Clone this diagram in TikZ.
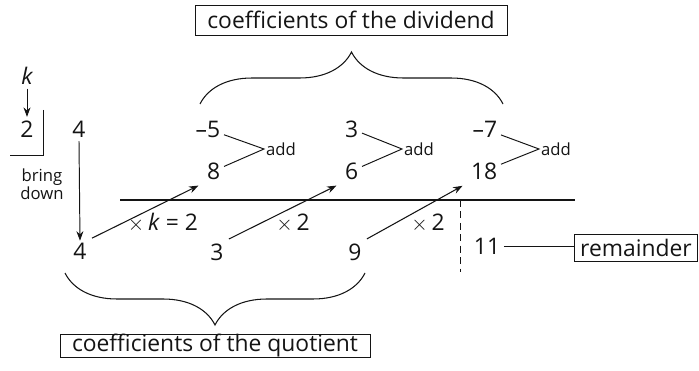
\documentclass[tikz,border=0pt]{standalone}
\usepackage{fontspec}
\setmainfont{Open Sans}
\usetikzlibrary{arrows.meta,decorations.pathreplacing}
\definecolor{ink}{RGB}{20,20,20}
\tikzset{
  >={Stealth[length=1.9mm,width=1.4mm]},
  num/.style={font=\fontsize{13}{14}\selectfont,text=ink,inner sep=2pt},
  small/.style={font=\fontsize{9.5}{10}\selectfont,text=ink,inner sep=1pt,align=center},
  tagbox/.style={draw=ink,thin,font=\fontsize{13}{14}\selectfont,text=ink,inner sep=0pt},
  link/.style={draw=ink,line width=0.55pt},
  mul/.style={->,draw=ink,line width=0.6pt,shorten >=3pt,shorten <=1pt},
  curly/.style={draw=ink,line width=0.6pt,decorate,decoration={brace,amplitude=1.04cm}},
}
\newcommand{\tms}{$\times$}
\begin{document}
\begin{tikzpicture}[x=0.02cm,y=-0.02cm]
  \useasboundingbox (0,0) rectangle (699,371);
  % divisor
  \node[num,font=\fontsize{13}{14}\selectfont\itshape] (k) at (27,76) {k};
  \node[num] (kval) at (27,129) {2};
  \draw[->,link] (k.south) -- (kval.north);
  \coordinate (cornerT) at (43,110);
  \coordinate (corner) at (43,155);
  \coordinate (cornerL) at (10,155);
  \draw[link] (cornerT) -- (corner) -- (cornerL);
  \node[small] (bring) at (42,184) {bring\\down};
  % dividend row
  \node[num] (d0) at (79,129) {4};
  \node[num,anchor=east] (d1) at (224,129) {–5};
  \node[num,anchor=east] (d2) at (362,129) {3};
  \node[num,anchor=east] (d3) at (501,129) {–7};
  % products
  \node[num,anchor=east] (p1) at (224,171) {8};
  \node[num,anchor=east] (p2) at (362,171) {6};
  \node[num,anchor=east] (p3) at (501,171) {18};
  \node[small,anchor=west] (add1) at (264,149) {add};
  \node[small,anchor=west] (add2) at (402,149) {add};
  \node[small,anchor=west] (add3) at (539,149) {add};
  \draw[link] (d1) -- (add1.west) -- (p1);
  \draw[link] (d2) -- (add2.west) -- (p2);
  \draw[link] (d3) -- (add3.west) -- (p3);
  % bar
  \coordinate (barL) at (120,200);
  \coordinate (barR) at (575,200);
  \draw[draw=ink,line width=0.9pt] (barL) -- (barR);
  \coordinate (dashT) at (460,200);
  \coordinate (dashB) at (460,272);
  \draw[link,dashed,dash pattern=on 4pt off 2.5pt] (dashT) -- (dashB);
  % quotient row
  \node[num] (q0) at (80,251) {4};
  \node[num] (q1) at (217,252) {3};
  \node[num] (q2) at (355,252) {9};
  \node[num] (rest) at (487,246) {11};
  \draw[->,link] (d0.south) -- ([yshift=-1pt]q0.north);
  \draw[mul] (q0.north east) -- (p1.south west);
  \draw[mul] (q1.north east) -- (p2.south west);
  \draw[mul] (q2.north east) -- (p3.south west);
  \node[num] (m1) at (163,223) {\tms\,\textit{k} = 2};
  \node[num] (m2) at (293,223) {\tms\,2};
  \node[num] (m3) at (428,223) {\tms\,2};
  % labels
  \node[tagbox,minimum width=6.24cm,minimum height=0.6cm] (divtag) at (351,20) {coefficients of the dividend};
  \node[tagbox,minimum width=6.2cm,minimum height=0.46cm] (quotag) at (215,346) {coefficients of the quotient};
  \node[tagbox,minimum width=2.46cm,minimum height=0.54cm] (remtag) at (636,248) {remainder};
  \draw[link] (rest) -- (remtag.west |- rest);
  \coordinate (braceL) at (200,104);
  \coordinate (braceR) at (503,104);
  \draw[curly] (braceL) -- (braceR);
  \coordinate (braceBR) at (365,273);
  \coordinate (braceBL) at (65,273);
  \draw[curly] (braceBR) -- (braceBL);
\end{tikzpicture}
\end{document}
